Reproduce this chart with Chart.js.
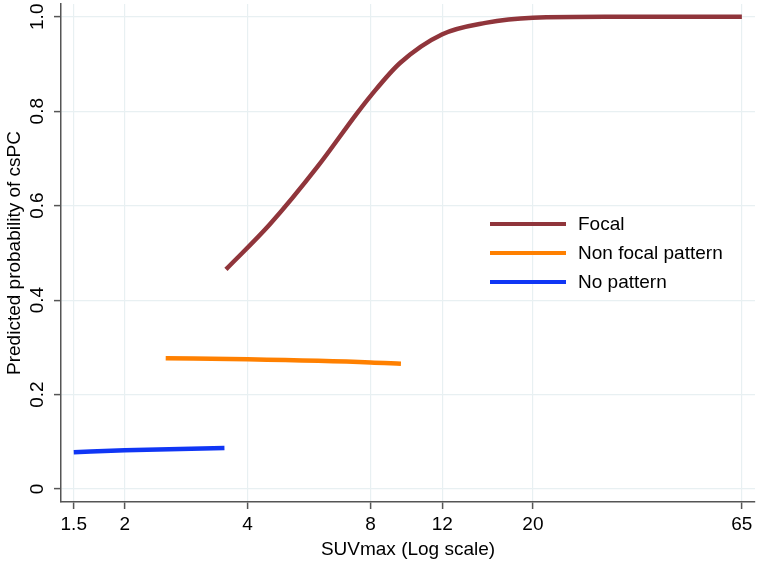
<!DOCTYPE html>
<html>
<head>
<meta charset="utf-8">
<script src="https://cdn.jsdelivr.net/npm/chart.js@4.4.1/dist/chart.umd.min.js"></script>
<style>
  html, body { margin: 0; padding: 0; background: #fff; }
  #wrap { width: 760px; height: 564px; }
</style>
</head>
<body>
<div id="wrap"><canvas id="grafico" width="760" height="564"></canvas></div>
<script>
// valores
const xTicks = [1.5, 2, 4, 8, 12, 20, 65];
const yTicks = [0, 0.2, 0.4, 0.6, 0.8, 1.0];
const yTickLabels = ['0', '0.2', '0.4', '0.6', '0.8', '1.0'];

const seriesNames = ['Focal', 'Non focal pattern', 'No pattern'];

const focalX = [3.54, 4.53, 5.94, 7.42, 8, 9.45, 12, 15.3, 20, 30, 65];
const focalY = [0.465, 0.56, 0.683, 0.796, 0.832, 0.902, 0.963, 0.987, 0.998, 1.0, 1.0];

const nonFocalX = [2.52, 4, 8, 9.5];
const nonFocalY = [0.277, 0.2746, 0.268, 0.265];

const noPatternX = [1.5, 2, 3.51];
const noPatternY = [0.078, 0.082, 0.087];

const cores = ['#90353b', '#ff8000', '#1036f5'];
const eixoCor = '#555555';
const gradeCor = '#e8f0f2';

function pontos(xs, ys) {
  return xs.map((x, i) => ({ x: x, y: ys[i] }));
}

Chart.defaults.font.family = "'Liberation Sans', Arial, Helvetica, sans-serif";
Chart.defaults.font.size = 19;
Chart.defaults.color = '#000';

// legenda desenhada dentro da área do gráfico
const legendaInterna = {
  id: 'legendaInterna',
  afterDraw(chart) {
    const ctx = chart.ctx;
    const x0 = 490, x1 = 566, tx = 578;
    const y0 = 224, passo = 29;
    ctx.save();
    ctx.font = "19px 'Liberation Sans', Arial, sans-serif";
    ctx.textBaseline = 'middle';
    ctx.fillStyle = '#000';
    chart.data.datasets.forEach((ds, i) => {
      const y = y0 + i * passo;
      ctx.strokeStyle = ds.borderColor;
      ctx.lineWidth = 4;
      ctx.beginPath();
      ctx.moveTo(x0, y);
      ctx.lineTo(x1, y);
      ctx.stroke();
      ctx.fillText(ds.label, tx, y + 1);
    });
    ctx.restore();
  }
};

const dados = [pontos(focalX, focalY), pontos(nonFocalX, nonFocalY), pontos(noPatternX, noPatternY)];

new Chart(document.getElementById('grafico').getContext('2d'), {
  type: 'line',
  data: {
    datasets: dados.map((d, i) => ({
      label: seriesNames[i],
      data: d,
      borderColor: cores[i],
      borderWidth: 4.5,
      pointRadius: 0,
      fill: false,
      cubicInterpolationMode: 'monotone',
      borderCapStyle: 'butt'
    }))
  },
  options: {
    responsive: false,
    animation: false,
    layout: { padding: { top: 4, right: 5, left: 0, bottom: 0 } },
    plugins: {
      legend: { display: false },
      tooltip: { enabled: false }
    },
    scales: {
      x: {
        type: 'logarithmic',
        min: 1.396,
        max: 70,
        afterBuildTicks: (s) => { s.ticks = xTicks.map(v => ({ value: v })); },
        afterFit: (s) => { s.height = 62; s.paddingLeft = 0; s.paddingRight = 0; },
        ticks: {
          autoSkip: false,
          maxRotation: 0,
          padding: 4,
          callback: (v) => String(v)
        },
        grid: {
          color: gradeCor,
          lineWidth: 1.2,
          tickColor: eixoCor,
          tickLength: 7,
          tickWidth: 1.5
        },
        border: { color: eixoCor, width: 1.5 },
        title: {
          display: true,
          text: 'SUVmax (Log scale)',
          padding: { top: 0, bottom: 3 }
        }
      },
      y: {
        min: -0.0275,
        max: 1.027,
        afterBuildTicks: (s) => { s.ticks = yTicks.map(v => ({ value: v })); },
        afterFit: (s) => { s.width = 61; s.paddingTop = 0; s.paddingBottom = 0; },
        ticks: {
          minRotation: 90,
          maxRotation: 90,
          crossAlign: 'center',
          padding: 3,
          callback: (v) => yTickLabels[yTicks.indexOf(v)] ?? ''
        },
        grid: {
          color: gradeCor,
          lineWidth: 1.2,
          tickColor: eixoCor,
          tickLength: 7,
          tickWidth: 1.5
        },
        border: { color: eixoCor, width: 1.5 },
        title: {
          display: true,
          text: 'Predicted probability of csPC',
          padding: { top: 3, bottom: 0 }
        }
      }
    }
  },
  plugins: [legendaInterna]
});
</script>
</body>
</html>
